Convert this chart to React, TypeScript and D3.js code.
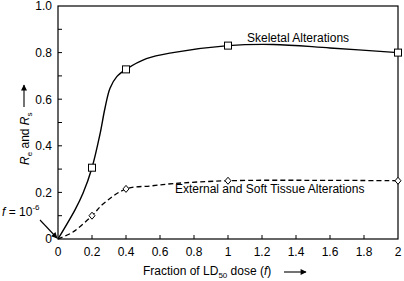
import React from "react";
import * as d3 from "d3";

const W = 404, H = 281;
const xTicks = [0, 0.2, 0.4, 0.6, 0.8, 1, 1.2, 1.4, 1.6, 1.8, 2];
const xTickLabels = ["0", "0.2", "0.4", "0.6", "0.8", "1", "1.2", "1.4", "1.6", "1.8", "2"];
const yTicks = [0, 0.2, 0.4, 0.6, 0.8, 1.0];
const yTickLabels = ["0", "0.2", "0.4", "0.6", "0.8", "1.0"];
const yMinorTicks = [0.1, 0.2, 0.3, 0.4, 0.5, 0.6, 0.7, 0.8, 0.9];

// measured points (markers)
const skelF = [0.2, 0.4, 1, 2];
const skelV = [0.306, 0.728, 0.83, 0.80];
const extF = [0.2, 0.4, 1, 2];
const extV = [0.10, 0.215, 0.25, 0.25];

// fitted curves
const skelCurveF = [0, 0.1, 0.147, 0.2, 0.247, 0.276, 0.306, 0.347, 0.4, 0.52, 0.676, 1, 1.265, 1.6, 2];
const skelCurveV = [0, 0.125, 0.196, 0.306, 0.45, 0.56, 0.647, 0.698, 0.728, 0.774, 0.80, 0.83, 0.835, 0.82, 0.80];
const extCurveF = [0, 0.088, 0.2, 0.265, 0.4, 0.55, 0.68, 1, 1.5, 2];
const extCurveV = [0, 0.03, 0.10, 0.15, 0.215, 0.228, 0.238, 0.25, 0.252, 0.25];

export default function App() {
  const x = d3.scaleLinear().domain([0, 2]).range([58, 398]);
  const y = d3.scaleLinear().domain([0, 1]).range([239, 6]);
  const line = d3
    .line<[number, number]>()
    .x((d) => x(d[0]))
    .y((d) => y(d[1]))
    .curve(d3.curveCatmullRom.alpha(0.5));
  const skelPath = line(skelCurveF.map((f, i) => [f, skelCurveV[i]]) as [number, number][]) || "";
  const extPath = line(extCurveF.map((f, i) => [f, extCurveV[i]]) as [number, number][]) || "";
  const font = "Liberation Sans, Arial, sans-serif";
  return (
    <svg width={W} height={H} style={{ position: "absolute", left: 0, top: 0, background: "#fff" }} fontFamily={font}>
      <defs>
        <marker id="ah" viewBox="0 0 10 10" refX="9" refY="5" markerWidth="7" markerHeight="6" orient="auto" markerUnits="userSpaceOnUse">
          <path d="M0,0 L10,5 L0,10 z" fill="#000" />
        </marker>
      </defs>
      {/* frame */}
      <rect x={x(0)} y={y(1)} width={x(2) - x(0)} height={y(0) - y(1)} fill="none" stroke="#000" strokeWidth={1.2} />
      {/* x ticks */}
      {xTicks.map((t, i) => (
        <g key={"xt" + i}>
          {i > 0 && i < xTicks.length - 1 && (
            <line x1={x(t)} x2={x(t)} y1={y(0)} y2={y(0) - 4} stroke="#000" strokeWidth={1} />
          )}
          <text x={x(t)} y={256} fontSize={12} textAnchor="middle">{xTickLabels[i]}</text>
        </g>
      ))}
      {/* y ticks */}
      {yMinorTicks.map((t, i) => (
        <line key={"ym" + i} x1={x(0)} x2={x(0) + 4} y1={y(t)} y2={y(t)} stroke="#000" strokeWidth={1} />
      ))}
      {yTicks.map((t, i) => (
        <text key={"yt" + i} x={52} y={y(t) + 4.3} fontSize={12} textAnchor="end">{yTickLabels[i]}</text>
      ))}
      {/* curves */}
      <path d={skelPath} fill="none" stroke="#000" strokeWidth={1.4} />
      <path d={extPath} fill="none" stroke="#000" strokeWidth={1.3} strokeDasharray="5,3" />
      {/* markers */}
      {skelF.map((f, i) => (
        <rect key={"sm" + i} x={x(f) - 3.5} y={y(skelV[i]) - 3.5} width={7} height={7} fill="#fff" stroke="#000" strokeWidth={1} />
      ))}
      {extF.map((f, i) => (
        <path key={"em" + i} d={`M${x(f)},${y(extV[i]) - 3.5} L${x(f) + 3},${y(extV[i])} L${x(f)},${y(extV[i]) + 3.5} L${x(f) - 3},${y(extV[i])} Z`} fill="#fff" stroke="#000" strokeWidth={1} />
      ))}
      {/* annotations */}
      <text x={247} y={42} fontSize={12}>Skeletal Alterations</text>
      <text x={175} y={193} fontSize={12}>External and Soft Tissue Alterations</text>
      <text x={2} y={216} fontSize={12}>
        <tspan fontStyle="italic">f</tspan> = 10<tspan dy={-6} fontSize={8}>-6</tspan>
      </text>
      <line x1={40} y1={220} x2={57} y2={238} stroke="#000" strokeWidth={1.1} markerEnd="url(#ah)" />
      {/* x title */}
      <text x={143} y={275} fontSize={12}>
        Fraction of LD<tspan fontSize={8} dy={3}>50</tspan><tspan dy={-3}> dose (</tspan><tspan fontStyle="italic">f</tspan>)
      </text>
      <line x1={284} y1={272} x2={306} y2={272} stroke="#000" strokeWidth={1.1} markerEnd="url(#ah)" />
      {/* y title */}
      <g transform="translate(29,165) rotate(-90)">
        <text x={0} y={0} fontSize={12}>
          <tspan fontStyle="italic">R</tspan><tspan fontSize={8} dy={3}>e</tspan><tspan dy={-3}> and </tspan><tspan fontStyle="italic">R</tspan><tspan fontSize={8} dy={3}>s</tspan>
        </text>
        <line x1={58} y1={-5} x2={80} y2={-5} stroke="#000" strokeWidth={1.1} markerEnd="url(#ah)" />
      </g>
    </svg>
  );
}
